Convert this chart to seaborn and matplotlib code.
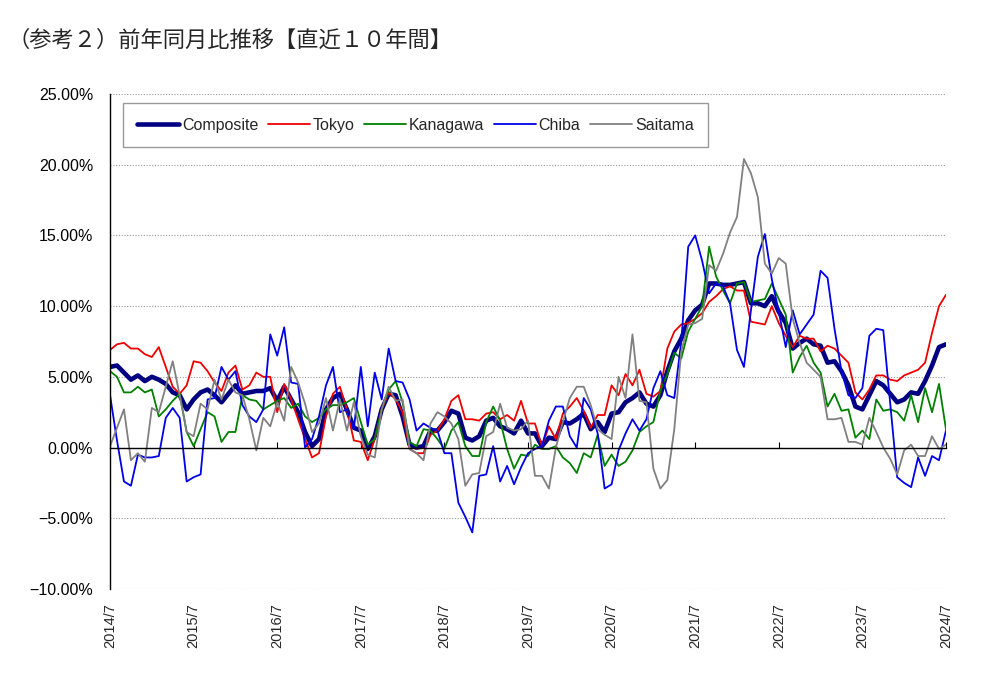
import numpy as np
import pandas as pd
import seaborn as sns
import matplotlib.pyplot as plt
from matplotlib.ticker import MultipleLocator, FuncFormatter

# Monthly YoY change (%), 2014/7 .. 2024/7
months = list(range(121))
year_ticks = list(range(0, 121, 12))
year_labels = [f"{y}/7" for y in range(2014, 2025)]

composite = [5.7, 5.8, 5.3, 4.8, 5.1, 4.7, 5.0, 4.8, 4.5, 3.9, 3.7, 2.7,
             3.4, 3.9, 4.1, 3.7, 3.2, 3.8, 4.4, 3.8, 3.9, 4.0, 4.0, 4.2,
             3.3, 4.3, 3.4, 2.5, 1.1, 0.1, 0.6, 2.7, 3.5, 3.8, 2.7, 1.4,
             1.2, -0.1, 0.8, 2.7, 3.8, 3.7, 2.2, 0.2, 0.0, 0.1, 1.2, 1.2,
             1.8, 2.6, 2.4, 0.7, 0.5, 0.8, 1.9, 2.1, 1.5, 1.3, 1.0, 1.9,
             1.0, 1.0, 0.1, 0.7, 0.6, 1.8, 1.7, 2.0, 2.4, 1.3, 1.8, 1.1,
             2.4, 2.5, 3.2, 3.5, 3.9, 3.1, 2.9, 3.7, 5.4, 6.8, 7.7, 9.0,
             9.7, 10.1, 11.6, 11.6, 11.5, 11.5, 11.6, 11.7, 10.2, 10.2, 10.0, 10.7,
             9.6, 8.8, 7.0, 7.4, 7.7, 7.3, 7.2, 6.0, 6.1, 5.4, 4.4, 2.9,
             2.7, 3.7, 4.7, 4.4, 3.8, 3.2, 3.4, 3.9, 3.8, 4.7, 5.8, 7.1, 7.3]

tokyo = [6.9, 7.3, 7.4, 7.0, 7.0, 6.6, 6.4, 7.1, 5.7, 4.3, 3.8, 4.4,
         6.1, 6.0, 5.4, 4.6, 4.0, 5.3, 5.8, 4.1, 4.4, 5.3, 5.0, 5.0,
         2.5, 4.5, 3.4, 2.0, 0.6, -0.7, -0.4, 2.2, 3.8, 4.3, 2.7, 0.5,
         0.4, -0.9, 0.6, 2.7, 3.9, 3.4, 2.5, -0.1, -0.4, -0.4, 0.9, 1.2,
         2.0, 3.3, 3.7, 2.0, 2.0, 1.9, 2.4, 2.5, 2.0, 2.3, 1.9, 3.3,
         1.7, 1.7, 0.1, 1.5, 0.6, 2.4, 2.9, 3.5, 2.6, 1.4, 2.3, 2.3,
         4.4, 3.7, 5.2, 4.4, 5.5, 3.8, 3.6, 4.0, 7.0, 8.2, 8.7, 8.8,
         9.1, 9.5, 10.3, 10.7, 11.2, 11.4, 11.1, 11.1, 8.9, 8.8, 8.7, 10.0,
         8.8, 7.9, 7.1, 7.9, 7.7, 7.7, 6.8, 7.2, 7.0, 6.5, 6.0, 3.9,
         3.4, 4.1, 5.1, 5.1, 4.8, 4.7, 5.1, 5.3, 5.5, 6.0, 8.1, 10.0, 10.8]

kanagawa = [5.4, 5.0, 3.9, 3.9, 4.3, 3.9, 4.1, 2.2, 2.7, 3.3, 3.8, 1.1,
            0.1, 1.3, 2.5, 2.2, 0.4, 1.1, 1.1, 3.7, 3.4, 3.3, 2.7, 3.0,
            3.3, 3.5, 2.8, 3.1, 2.2, 1.8, 2.1, 2.7, 3.0, 3.0, 3.2, 3.5,
            1.8, 0.2, 0.6, 2.7, 4.1, 4.7, 3.2, 0.4, 0.1, 1.3, 1.2, 0.6,
            -0.1, 1.2, 1.8, 0.1, -0.6, -0.6, 1.8, 2.9, 1.9, -0.1, -1.5, -0.5,
            -0.6, 0.2, -0.1, -0.1, 0.1, -0.7, -1.1, -1.8, -0.4, -0.7, 0.9, -1.3,
            -0.5, -1.3, -1.0, -0.2, 1.1, 1.5, 1.8, 4.0, 5.2, 6.7, 6.3, 8.2,
            9.1, 10.0, 14.2, 12.1, 11.1, 10.2, 11.6, 11.7, 10.3, 10.4, 10.5, 11.6,
            10.5, 9.4, 5.3, 6.4, 7.2, 6.0, 5.3, 2.9, 3.8, 2.6, 2.7, 0.7,
            1.2, 0.6, 3.4, 2.6, 2.7, 2.5, 1.9, 3.7, 1.8, 4.2, 2.5, 4.5, 1.3]

chiba = [3.7, 0.5, -2.4, -2.7, -0.5, -0.7, -0.7, -0.6, 2.1, 2.8, 2.1, -2.4,
         -2.1, -1.9, 3.4, 3.5, 5.7, 4.8, 5.4, 3.0, 2.2, 1.8, 2.7, 8.0,
         6.5, 8.5, 4.6, 4.5, 0.0, 0.6, 2.2, 4.4, 5.7, 2.5, 2.7, 1.3,
         5.7, 1.5, 5.3, 3.4, 7.0, 4.7, 4.6, 3.4, 1.2, 1.7, 1.4, 1.2,
         -0.4, -0.4, -3.9, -4.9, -6.0, -2.0, -1.9, 0.1, -2.4, -1.3, -2.6, -1.4,
         -0.4, -0.1, 0.1, 1.9, 2.9, 2.9, 0.8, 0.0, 3.5, 2.7, 1.0, -2.9,
         -2.6, -0.2, 1.0, 2.0, 1.2, 2.0, 4.2, 5.4, 3.7, 3.5, 7.5, 14.2,
         15.0, 13.2, 10.9, 11.6, 11.4, 10.2, 6.9, 5.7, 9.7, 13.5, 15.1, 11.9,
         9.6, 7.1, 9.7, 8.0, 8.7, 9.4, 12.5, 12.0, 8.4, 5.4, 3.7, 3.5,
         4.2, 7.9, 8.4, 8.3, 3.1, -2.1, -2.5, -2.8, -0.7, -2.0, -0.6, -0.9, 1.2]

saitama = [0.1, 1.4, 2.7, -0.9, -0.4, -1.0, 2.8, 2.5, 4.3, 6.1, 3.7, 1.1,
           0.8, 3.1, 2.7, 4.8, 3.4, 4.8, 3.9, 3.7, 2.0, -0.2, 2.1, 1.5,
           3.2, 1.9, 5.7, 4.6, 3.1, 1.1, 1.7, 3.5, 1.2, 3.4, 1.2, 3.2,
           0.8, -0.5, -0.7, 2.7, 4.3, 3.3, 3.4, -0.1, -0.4, -0.9, 1.7, 2.5,
           2.2, 1.7, 0.6, -2.7, -1.9, -1.8, 0.8, 1.1, 3.1, 1.4, 1.2, 1.3,
           1.9, -2.0, -2.0, -2.9, 0.0, 1.8, 3.5, 4.3, 4.3, 3.0, 1.3, 0.9,
           0.6, 5.0, 3.5, 8.0, 3.3, 3.2, -1.5, -2.9, -2.3, 1.3, 6.8, 8.7,
           8.8, 9.1, 12.9, 12.5, 13.7, 15.2, 16.3, 20.4, 19.4, 17.7, 13.0, 12.3,
           13.4, 13.0, 9.1, 7.4, 6.0, 5.5, 5.0, 2.0, 2.0, 2.1, 0.4, 0.4,
           0.2, 2.1, 1.1, 0.0, -0.8, -1.9, -0.2, 0.2, -0.6, -0.6, 0.8, -0.1, 0.2]

sns.set_theme(style="white")
plt.rcParams['font.family'] = ['Liberation Sans', 'Noto Sans CJK JP', 'DejaVu Sans']

fig = plt.figure(figsize=(9.86, 6.78), dpi=100)
ax = fig.add_axes([0.1116, 0.1313, 0.8478, 0.7301])

series = [
    ("Composite", composite, "#000080", 3.3),
    ("Tokyo", tokyo, "#ee0000", 1.3),
    ("Kanagawa", kanagawa, "#008000", 1.3),
    ("Chiba", chiba, "#0000e6", 1.3),
    ("Saitama", saitama, "#808080", 1.3),
]
for name, vals, color, lw in series:
    sns.lineplot(x=months, y=vals, ax=ax, color=color, linewidth=lw, label=name)

ax.set_xlim(0, 120)
ax.set_ylim(-10, 25)
ax.yaxis.set_major_locator(MultipleLocator(5))
ax.yaxis.set_major_formatter(FuncFormatter(lambda v, p: f"{v:.2f}%".replace("-", "\u2212")))
ax.yaxis.grid(True, linestyle=(0, (1, 1.5)), color="#999999", linewidth=0.8)
ax.xaxis.grid(False)
ax.tick_params(axis="y", length=0, pad=12, labelsize=11.5, labelcolor="black")

# zero line carries the small year ticks
ax.spines["bottom"].set_position(("data", 0))
ax.spines["bottom"].set_color("black")
ax.spines["bottom"].set_linewidth(1.0)
ax.spines["left"].set_color("black")
ax.spines["left"].set_linewidth(1.0)
ax.spines["top"].set_visible(False)
ax.spines["right"].set_visible(False)
ax.set_xticks(year_ticks)
ax.tick_params(axis="x", direction="in", length=4, width=0.8, color="black",
               labelbottom=False, bottom=True)
ax.set_xlabel("")
ax.set_ylabel("")

# year labels at the bottom of the plot
sec = ax.secondary_xaxis("bottom")
sec.set_xticks(year_ticks)
sec.set_xticklabels(year_labels, rotation=90, fontsize=10.5)
sec.tick_params(length=0, pad=10)
sec.spines["bottom"].set_visible(False)

leg = ax.legend(loc="upper left", bbox_to_anchor=(0.0156, 0.981), ncol=5,
                fontsize=11.5, frameon=True, fancybox=False, framealpha=1,
                edgecolor="#999999", handlelength=2.6, handletextpad=0.2,
                columnspacing=0.6, borderpad=0.9, borderaxespad=0)
leg.get_frame().set_linewidth(1.0)

fig.text(0.008, 0.941, "（参考２）前年同月比推移【直近１０年間】", fontsize=16,
         family=["Noto Sans CJK JP", "DejaVu Sans"], va="center", ha="left")

fig.savefig("out.png", dpi=100, facecolor="white")
